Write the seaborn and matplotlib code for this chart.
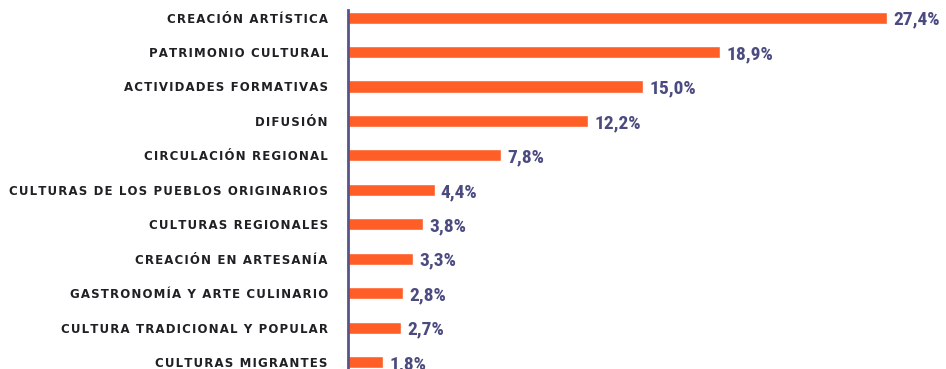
import matplotlib
matplotlib.use("Agg")
import matplotlib.pyplot as plt
from matplotlib import font_manager
import seaborn as sns
import pandas as pd

categorias = [
    "CREACIÓN ARTÍSTICA",
    "PATRIMONIO CULTURAL",
    "ACTIVIDADES FORMATIVAS",
    "DIFUSIÓN",
    "CIRCULACIÓN REGIONAL",
    "CULTURAS DE LOS PUEBLOS ORIGINARIOS",
    "CULTURAS REGIONALES",
    "CREACIÓN EN ARTESANÍA",
    "GASTRONOMÍA Y ARTE CULINARIO",
    "CULTURA TRADICIONAL Y POPULAR",
    "CULTURAS MIGRANTES",
]
porcentajes = [27.4, 18.9, 15.0, 12.2, 7.8, 4.4, 3.8, 3.3, 2.8, 2.7, 1.8]

df = pd.DataFrame({"categoria": categorias, "porcentaje": porcentajes})

sns.set_theme(style="white")
plt.rcParams["font.family"] = ["DejaVu Sans"]

names = {f.name for f in font_manager.fontManager.ttflist}
cond = [n for n in ["Roboto Condensed", "Liberation Sans Narrow",
                    "DejaVu Sans Condensed", "Open Sans Condensed"] if n in names]
num_family = cond[0] if cond else "DejaVu Sans"

BAR = "#FF5E26"
AXIS = "#55558A"
LABEL = "#4B4B80"
TEXT = "#1F1F24"

fig = plt.figure(figsize=(9.46, 3.69), dpi=100)
ax = fig.add_axes([348 / 946, 0.0, 598 / 946, 359 / 369])

sns.barplot(data=df, x="porcentaje", y="categoria", orient="h",
            color=BAR, saturation=1, width=0.35, ax=ax)

ax.set_xlim(0, 598 / 19.67)
ax.set_ylim(10.2, -0.22)
ax.set_xlabel("")
ax.set_ylabel("")
ax.set_xticks([])

for s in ["top", "right", "bottom"]:
    ax.spines[s].set_visible(False)
ax.spines["left"].set_color(AXIS)
ax.spines["left"].set_linewidth(2)

# tracked (letter-spaced) category labels
spaced = ["\u200a".join(c) for c in categorias]
ax.set_yticks(range(len(categorias)))
ax.set_yticklabels(spaced)
ax.tick_params(axis="y", length=0, pad=14.5)
for lab in ax.get_yticklabels():
    lab.set_fontsize(8.5)
    lab.set_fontweight("bold")
    lab.set_color(TEXT)

for i, v in enumerate(porcentajes):
    ax.annotate(f"{v:.1f}%".replace(".", ","), (v, i), xytext=(4.5, -1.5),
                textcoords="offset points", va="center", ha="left",
                fontsize=14, fontweight="bold", color=LABEL,
                family=num_family,
                fontstretch="condensed")

fig.savefig("out.png", dpi=100)
